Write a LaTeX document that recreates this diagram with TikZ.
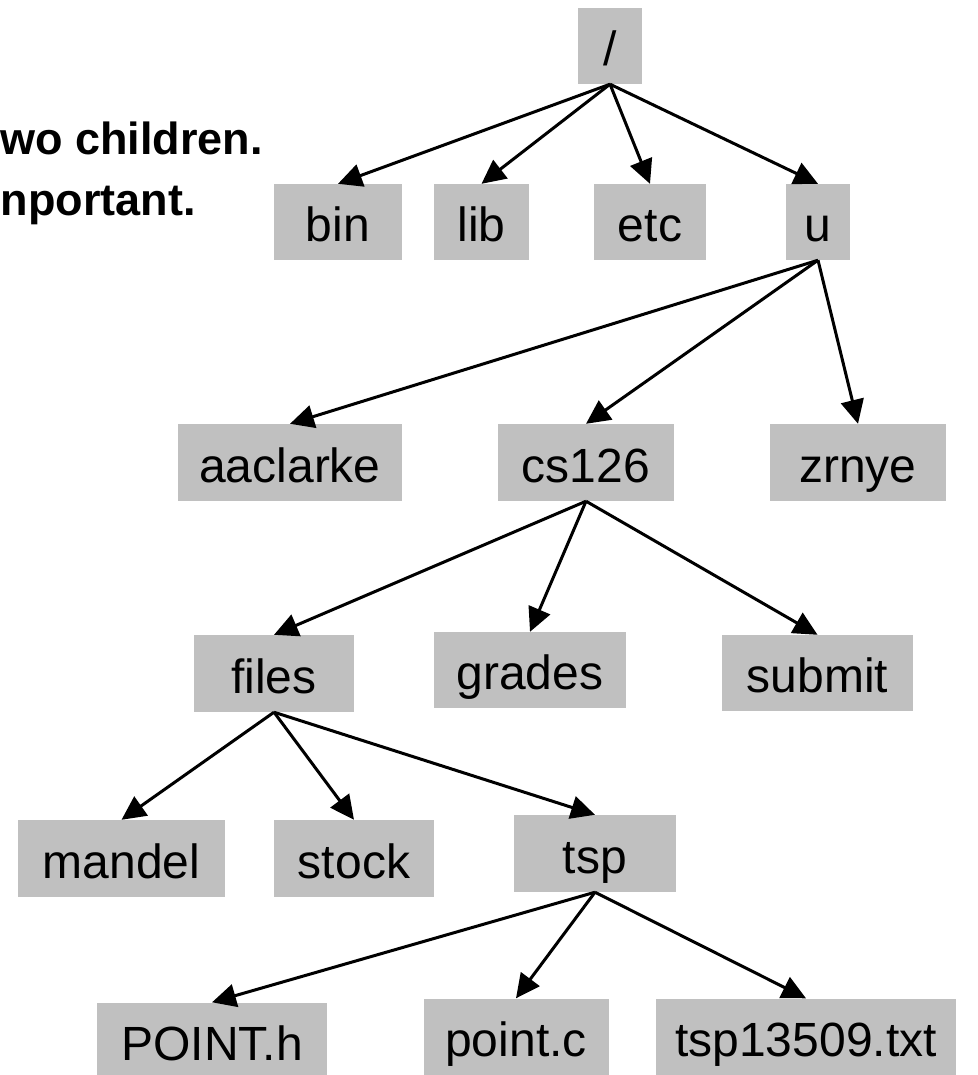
\documentclass[tikz,border=0pt]{standalone}
\usepackage{fontspec}
\setmainfont{Liberation Sans}
\usetikzlibrary{arrows.meta}
\definecolor{boxgray}{HTML}{C0C0C0}
\begin{document}
\begin{tikzpicture}[x=1pt,y=-1pt,
  dirbox/.style={fill=boxgray, inner sep=0pt, font=\fontsize{48}{48}\selectfont,
    text height=39pt, text depth=0pt, align=center},
  link/.style={line width=3pt, -{Triangle[length=24pt,width=23pt]}},
  caption/.style={font=\bfseries\fontsize{45}{45}\selectfont, anchor=base east, inner sep=0pt},
]
\useasboundingbox (0,0) rectangle (977,1075);
\clip (0,0) rectangle (977,1075);

% slide text cut off at the left edge
\node[caption] (line1) at (263,155) {wo children.};
\node[caption] (line2) at (196,216) {nportant.};

% directory tree
\node[dirbox, minimum width=64pt,  minimum height=76pt] (root)    at (610,46)    {/};
\node[dirbox, minimum width=128pt, minimum height=76pt] (bin)     at (338,222)   {bin};
\node[dirbox, minimum width=95pt,  minimum height=76pt] (lib)     at (481.5,222) {lib};
\node[dirbox, minimum width=112pt, minimum height=76pt] (etc)     at (650,222)   {etc};
\node[dirbox, minimum width=64pt,  minimum height=76pt] (u)       at (818,222)   {u};
\node[dirbox, minimum width=224pt, minimum height=77pt] (aac)     at (290,462.5) {aaclarke};
\node[dirbox, minimum width=176pt, minimum height=77pt] (cs)      at (586,462.5) {cs126};
\node[dirbox, minimum width=176pt, minimum height=77pt] (zrnye)   at (858,462.5) {zrnye};
\node[dirbox, minimum width=160pt, minimum height=77pt] (files)   at (274,673.5) {files};
\node[dirbox, minimum width=192pt, minimum height=76pt] (grades)  at (530,670)   {grades};
\node[dirbox, minimum width=191pt, minimum height=76pt] (submit)  at (817.5,673) {submit};
\node[dirbox, minimum width=207pt, minimum height=77pt] (mandel)  at (121.5,858.5) {mandel};
\node[dirbox, minimum width=160pt, minimum height=77pt] (stock)   at (354,858.5) {stock};
\node[dirbox, minimum width=162pt, minimum height=77pt] (tsp)     at (595,853.5) {tsp};
\node[dirbox, minimum width=230pt, minimum height=77pt] (pointh)  at (212,1041)  {POINT.h};
\node[dirbox, minimum width=185pt, minimum height=77pt] (pointc)  at (516,1037) {point.c};
\node[dirbox, minimum width=300pt, minimum height=77pt] (tsptxt)  at (806,1037) {tsp13509.txt};

% parent -> child links
\foreach \p/\c in {root/bin, root/lib, root/etc, root/u,
                   u/aac, u/cs, u/zrnye,
                   cs/files, cs/grades, cs/submit,
                   files/mandel, files/stock, files/tsp,
                   tsp/pointh, tsp/pointc, tsp/tsptxt}
  \draw[link] (\p.south) -- (\c.north);
\end{tikzpicture}
\end{document}
